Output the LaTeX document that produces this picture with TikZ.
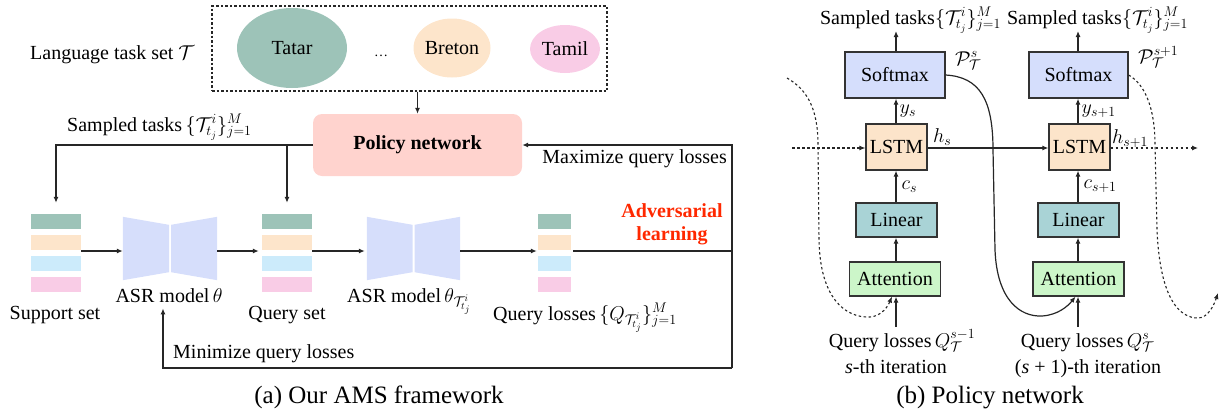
\RequirePackage{fix-cm}
\documentclass[tikz,border=0pt]{standalone}
\usepackage{fontspec}
\setmainfont{Liberation Serif}
\usetikzlibrary{arrows.meta,shapes.geometric}
\definecolor{cteal}{RGB}{157,195,184}
\definecolor{cpeach}{RGB}{253,229,203}
\definecolor{cblue}{RGB}{204,235,251}
\definecolor{cpink}{RGB}{249,204,230}
\definecolor{casr}{RGB}{214,222,251}
\definecolor{cpolicy}{RGB}{255,211,206}
\definecolor{csoft}{RGB}{213,222,252}
\definecolor{clstm}{RGB}{252,228,202}
\definecolor{clin}{RGB}{169,211,214}
\definecolor{catt}{RGB}{204,246,201}
\definecolor{cadv}{RGB}{255,40,0}
\begin{document}
\begin{tikzpicture}[x=1pt,y=-1pt,
  txt/.style={font=\fontsize{20}{24}\selectfont, inner sep=0pt},
  captxt/.style={font=\fontsize{25}{30}\selectfont, inner sep=0pt},
  arr/.style={draw=black!85, line width=1.2pt, -{Latex[length=6pt,width=5pt]}},
  ln/.style={draw=black!85, line width=1.2pt},
  dsh/.style={draw=black!85, line width=1.1pt, dash pattern=on 2.5pt off 2.5pt},
  bar/.style={minimum width=50pt, minimum height=15pt, inner sep=0pt},
  grp/.style={minimum width=50pt, minimum height=78pt, inner sep=0pt},
  asr/.style={minimum width=94pt, minimum height=63pt, inner sep=0pt},
  blk/.style={draw=black!80, line width=1.2pt, font=\fontsize{20}{24}\selectfont, inner sep=0pt},
  lang/.style={ellipse, inner sep=0pt, font=\fontsize{20}{24}\selectfont}
]
\useasboundingbox (0,0) rectangle (1225,418);

% ---------------- (a) AMS framework ----------------
\node[draw=black!85, line width=1.3pt, dash pattern=on 2.5pt off 2pt, minimum width=395pt, minimum height=85pt, inner sep=0pt] (taskset) at (409.5,48.5) {};
\node[lang, fill=cteal, minimum width=110pt, minimum height=80pt] (tatar) at (292,48) {Tatar};
\node[inner sep=0pt, anchor=base, font=\fontsize{14}{14}\selectfont] (dots) at (381,56) {…};
\node[lang, fill=cpeach, minimum width=77pt, minimum height=59pt] (breton) at (452,48) {Breton};
\node[lang, fill=cpink, minimum width=70pt, minimum height=48pt] (tamil) at (565,49) {Tamil};
\node[txt, anchor=base west] (langlab) at (30,59) {Language task set $\mathcal{T}$};

\node[inner sep=0pt, fill=cpolicy, rounded corners=9pt, minimum width=209pt, minimum height=62pt, font=\fontsize{20}{24}\selectfont\bfseries] (policy) at (417.5,145) {Policy network};
\draw[arr] (taskset.south -| policy.north) -- (policy.north);

% stacks
\node[grp] (sup) at (56,251) {};
\node[grp] (qs) at (287,251) {};
\node[grp, minimum width=33pt] (ql) at (554.5,251) {};
\foreach \c [count=\i] in {cteal,cpeach,cblue,cpink}{
  \pgfmathsetmacro\yy{200.5+21*\i}
  \node[bar, fill=\c] (sup\i) at (56,\yy) {};
  \node[bar, fill=\c] (qs\i) at (287,\yy-0.5) {};
  \node[bar, fill=\c, minimum width=33pt] (ql\i) at (554.5,\yy-0.5) {};
}

% ASR models
\node[asr] (asr1) at (170,248.5) {};
\node[asr, minimum width=93pt] (asr2) at (413.5,248.5) {};
\foreach \m in {asr1,asr2}{
  \fill[casr] (\m.north west) -- ([xshift=-1pt,yshift=-8pt]\m.north) -- ([xshift=-1pt,yshift=8pt]\m.south) -- (\m.south west) -- cycle;
  \fill[casr] ([xshift=1pt,yshift=-8pt]\m.north) -- (\m.north east) -- (\m.south east) -- ([xshift=1pt,yshift=8pt]\m.south) -- cycle;
}

% labels
\node[txt, anchor=base] (suplab) at (55,319) {Support set};
\node[txt, anchor=base] (asr1lab) at (169,302) {ASR model\,$\theta$};
\node[txt, anchor=base] (qslab) at (287,319) {Query set};
\node[txt, anchor=base west] (asr2lab) at (347,302) {ASR model\,$\theta_{\mathcal{T}^i_{t_j}}$};
\node[txt, anchor=base west] (qllab) at (493,320) {Query losses\,$\{Q_{\mathcal{T}^i_{t_j}}\}_{j=1}^M$};
\node[txt, anchor=base west] (samplab) at (67,131) {Sampled tasks\,$\{\mathcal{T}^i_{t_j}\}_{j=1}^M$};
\node[txt, anchor=base east] (maxlab) at (727,163) {Maximize query losses};
\node[txt, anchor=base west] (minlab) at (173,358) {Minimize query losses};
\node[inner sep=0pt, align=center, text=cadv, font=\fontsize{20}{23}\selectfont\bfseries] (adv) at (672,224) {Adversarial\\learning};
\node[captxt, anchor=base] (capa) at (379,403) {(a) Our AMS framework};

% connectors
\coordinate (rt) at (732,145);
\coordinate (rb) at (732,368);
\coordinate (lb) at (163,368);
\draw[arr] (sup.east) -- (sup.east -| asr1.west);
\draw[arr, shorten >=3pt] (asr1.east |- sup.east) -- (sup.east -| qs.west);
\draw[arr, shorten >=2pt] (qs.east) -- (qs.east -| asr2.west);
\draw[arr, shorten >=1pt] (asr2.east |- qs.east) -- (qs.east -| ql.west);
\draw[ln] ([xshift=2pt]ql.east) -- (ql.east -| rb);
\draw[arr] (rb) -- (rt) -- (policy.east);
\draw[arr] (rb) -- (lb) -- ([yshift=-6pt]lb |- asr1lab.south);
\draw[arr, shorten >=9pt] (policy.west) -| (sup.north);
\draw[arr, shorten >=9pt] (policy.west -| qs.north) -- (qs.north);

% ---------------- (b) Policy network ----------------
\node[blk, fill=csoft, minimum width=100pt, minimum height=46pt] (sm1) at (895,75) {Softmax};
\node[blk, fill=clstm, minimum width=61pt, minimum height=46pt] (ls1) at (896.5,147) {LSTM};
\node[blk, fill=clin, minimum width=81pt, minimum height=34pt] (li1) at (896.5,220) {Linear};
\node[blk, fill=catt, minimum width=91pt, minimum height=34pt] (at1) at (895,279) {Attention};
\node[blk, fill=csoft, minimum width=99pt, minimum height=46pt] (sm2) at (1078.5,75) {Softmax};
\node[blk, fill=clstm, minimum width=61pt, minimum height=46pt] (ls2) at (1079.5,147) {LSTM};
\node[blk, fill=clin, minimum width=81pt, minimum height=34pt] (li2) at (1078.5,220) {Linear};
\node[blk, fill=catt, minimum width=91pt, minimum height=34pt] (at2) at (1078.5,279) {Attention};

\coordinate (o1) at (896,31);
\coordinate (o2) at (1078,31);
\coordinate (q1) at (896,327);
\coordinate (q2) at (1078,327);
\coordinate (hin) at (792,148);
\coordinate (hout) at (1198,148);
\coordinate (d1s) at (787,78);
\coordinate (d2e) at (1218,293);

\draw[arr] (o1 |- sm1.north) -- (o1);
\draw[arr] (o2 |- sm2.north) -- (o2);
\draw[arr] (o1 |- ls1.north) -- node[txt, right=3pt] (ys) {$y_s$} (o1 |- sm1.south);
\draw[arr] (o2 |- ls2.north) -- node[txt, right=3pt] (ys1) {$y_{s+1}$} (o2 |- sm2.south);
\draw[arr] (o1 |- li1.north) -- node[txt, right=5pt] (cs) {$c_s$} (o1 |- ls1.south);
\draw[arr] (o2 |- li2.north) -- node[txt, right=5pt] (cs1) {$c_{s+1}$} (o2 |- ls2.south);
\draw[arr] (o1 |- at1.north) -- (o1 |- li1.south);
\draw[arr] (o2 |- at2.north) -- (o2 |- li2.south);
\draw[arr] (q1) -- (q1 |- at1.south);
\draw[arr] (q2) -- (q2 |- at2.south);
\draw[arr] (ls1.east |- hin) -- (ls2.west |- hin);
\draw[dsh, -{Latex[length=6pt,width=5pt]}] (hin) -- (ls1.west |- hin);
\draw[dsh, -{Latex[length=6pt,width=5pt]}] (ls2.east |- hout) -- (hout);

\node[txt, anchor=base west] (hs) at (933,142) {$h_s$};
\node[txt, anchor=base west] (hs1) at (1112,143) {$h_{s+1}$};
\node[txt, anchor=base west] (ps) at (955,65) {$\mathcal{P}^{s}_{\mathcal{T}}$};
\node[txt, anchor=base west] (ps1) at (1138,63) {$\mathcal{P}^{s+1}_{\mathcal{T}}$};

% curves
\draw[ln, -{Latex[length=6pt,width=5pt]}] (sm1.east) .. controls (980,77) and (993,100) .. (993,150)
   -- (995,250) .. controls (997,300) and (1020,317) .. (1042,316)
   .. controls (1058,315) and (1068,306) .. ([xshift=-3pt]at2.south);
\draw[dsh, -{Latex[length=6pt,width=5pt]}] (d1s) .. controls (808,90) and (818,110) .. (818,145)
   -- (819,240) .. controls (820,298) and (845,318) .. (870,317)
   .. controls (882,316) and (888,306) .. ([xshift=-3pt]at1.south);
\draw[dsh, -{Latex[length=6pt,width=5pt]}] (sm2.east) .. controls (1146,85) and (1155,110) .. (1155,145)
   -- (1157,230) .. controls (1160,300) and (1180,318) .. (1198,318)
   .. controls (1208,318) and (1214,305) .. (d2e);

% labels (b)
\node[txt, anchor=base] (st1) at (910.5,24) {Sampled tasks$\{\mathcal{T}^i_{t_j}\}_{j=1}^M$};
\node[txt, anchor=base] (st2) at (1097.5,24) {Sampled tasks$\{\mathcal{T}^i_{t_j}\}_{j=1}^M$};
\node[txt, anchor=base] (ql1) at (902,347) {Query losses\,$Q^{s-1}_{\mathcal{T}}$};
\node[txt, anchor=base] (it1) at (896,373) {\textit{s}-th iteration};
\node[txt, anchor=base] (ql2) at (1087.5,347) {Query losses\,$Q^{s}_{\mathcal{T}}$};
\node[txt, anchor=base] (it2) at (1088,373) {(\textit{s} + 1)-th iteration};
\node[captxt, anchor=base] (capb) at (990,403) {(b) Policy network};
\end{tikzpicture}
\end{document}
